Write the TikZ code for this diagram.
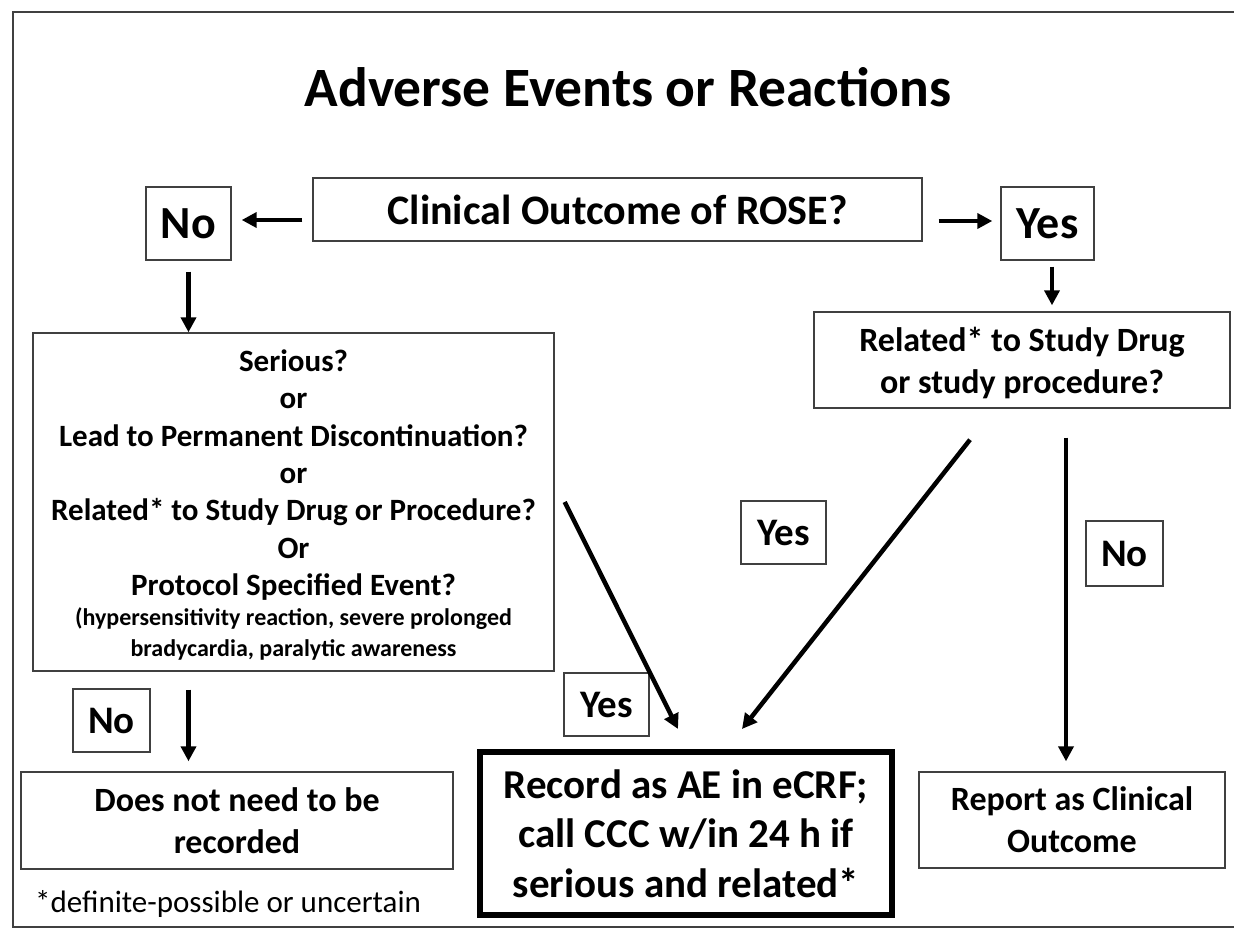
\documentclass[tikz,border=0pt]{standalone}
\usepackage{fontspec}
\setmainfont{Carlito}
\usetikzlibrary{arrows.meta}

\begin{document}
\begin{tikzpicture}[x=1pt,y=-1pt,
	box/.style={draw=black!75,line width=1.4pt,inner sep=0pt,align=center},
	arr/.style={-{Triangle[length=15pt,width=15pt]},line width=4.5pt},
	big/.style={font=\fontsize{46}{50}\selectfont\bfseries},
	lbl/.style={font=\fontsize{39}{44}\selectfont\bfseries},
	txt/.style={font=\fontsize{34}{42}\selectfont\bfseries}]
	\useasboundingbox (0,0) rectangle (1234,930);
	\draw[black!75,line width=1.5pt] (1234,12) -- (13,12) -- (13,927) -- (1234,927);
	\node[anchor=base,font=\fontsize{55.5}{60}\selectfont\bfseries] (title) at (628,106) {Adverse Events or Reactions};
	\node[box,minimum width=609pt,minimum height=63pt,font=\fontsize{42}{48}\selectfont\bfseries] (clin) at (617.5,209.5) {Clinical Outcome of ROSE?};
	\node[box,big,minimum width=85pt,minimum height=73pt] (no1) at (188.5,223.5) {No};
	\node[box,big,minimum width=93pt,minimum height=73pt] (yes1) at (1047.5,223.5) {Yes};
	\node[box,txt,text depth=0pt,minimum width=416pt,minimum height=96pt] (rel) at (1022,360) {Related* to Study Drug\\or study procedure?};
	\node[box,minimum width=521pt,minimum height=338pt] (crit) at (293.5,502) {};
	\node[align=center,font=\fontsize{31}{37.3}\selectfont\bfseries] (crittxt) at (293.5,475)
		{Serious?\\or\\Lead to Permanent Discontinuation?\\or\\Related* to Study Drug or Procedure?\\Or\\Protocol Specified Event?};
	\node[align=center,font=\fontsize{24}{31}\selectfont\bfseries] (critnote) at (293.5,634)
		{(hypersensitivity reaction, severe prolonged\\bradycardia, paralytic awareness};
	\node[box,lbl,minimum width=85pt,minimum height=63pt] (yes2) at (783.5,532.5) {Yes};
	\node[box,lbl,minimum width=77pt,minimum height=65pt] (no2) at (1124.5,553.5) {No};
	\node[box,lbl,minimum width=85pt,minimum height=63pt] (yes3) at (606.5,704.5) {Yes};
	\node[box,lbl,minimum width=77pt,minimum height=63pt] (no3) at (111.5,720.5) {No};
	\node[box,txt,minimum width=432pt,minimum height=97pt] (skip) at (237,820.5) {Does not need to be\\recorded};
	\node[box,draw=black,line width=6pt,minimum width=412pt,minimum height=163pt,font=\fontsize{41}{49.5}\selectfont\bfseries] (rec) at (686,833.5)
		{Record as AE in eCRF;\\call CCC w/in 24 h if\\serious and related*};
	\node[box,txt,minimum width=306pt,minimum height=96pt] (rep) at (1072,820) {Report as Clinical\\Outcome};
	\node[anchor=base west,inner sep=0pt,font=\fontsize{31}{36}\selectfont] (foot) at (35,912) {*definite-possible or uncertain};
	\draw[arr] ([xshift=-10pt,yshift=-10.5pt]clin.west) -- ([xshift=10pt,yshift=-10.5pt]clin.west -| no1.east);
	\draw[arr] ([xshift=16pt,yshift=-11.5pt]clin.east) -- ([xshift=-8pt,yshift=-11.5pt]clin.east -| yes1.west);
	\draw[arr] ([xshift=4.5pt,yshift=-6pt]yes1.south) -- ([xshift=4.5pt,yshift=6pt]yes1.south |- rel.north);
	\draw[arr] ([yshift=-11pt]no1.south) -- (no1.south |- crit.north);
	\draw[arr] ([yshift=-18pt]no1.south |- crit.south) -- ([yshift=10pt]no1.south |- skip.north);
	\draw[arr] ([xshift=10pt]crit.east) -- ([xshift=-8pt,yshift=20pt]rec.north);
	\draw[arr] ([xshift=-52pt,yshift=-31pt]rel.south) -- ([xshift=56pt,yshift=20pt]rec.north);
	\draw[arr] ([xshift=44pt,yshift=-29pt]rel.south) -- ([xshift=44pt,yshift=10pt]rel.south |- rep.north);
\end{tikzpicture}
\end{document}
